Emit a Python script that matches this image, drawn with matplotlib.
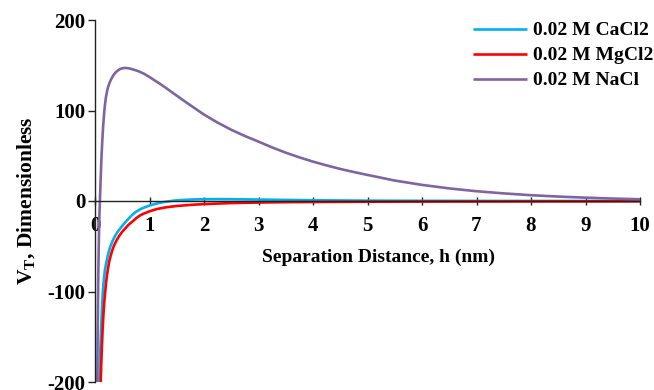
import matplotlib
matplotlib.use("Agg")
import matplotlib.pyplot as plt

plt.rcParams['font.family'] = ['Liberation Serif', 'DejaVu Serif']
plt.rcParams['font.weight'] = 'bold'
plt.rcParams['mathtext.fontset'] = 'custom'
plt.rcParams['mathtext.bf'] = 'Liberation Serif:bold'
plt.rcParams['mathtext.rm'] = 'Liberation Serif:bold'
plt.rcParams['axes.unicode_minus'] = False

# Data
h_nacl = [0.036, 0.042, 0.05, 0.06, 0.07, 0.08, 0.09, 0.10, 0.11, 0.12, 0.135, 0.15, 0.165, 0.18,
          0.20, 0.22, 0.24, 0.27, 0.30, 0.33, 0.36, 0.40, 0.45, 0.50, 0.54, 0.60, 0.65, 0.70,
          0.79, 0.90, 1.0, 1.1, 1.2, 1.3, 1.4, 1.5, 1.6, 1.75, 1.9, 2.0, 2.25, 2.5, 2.75,
          3.0, 3.25, 3.5, 3.75, 4.0, 4.25, 4.5, 4.75, 5.0, 5.5, 6.0, 6.5, 7.0, 7.5, 8.0, 8.5,
          9.0, 9.5, 10.0]
v_nacl = [-250, -200, -140, -85, -45, -18, 0, 18, 34, 50, 68, 83, 95, 105,
          114.5, 121, 126, 131, 135, 138.2, 140.8, 143.3, 145.5, 146.7, 147, 146.8, 146.2, 145.3,
          143.6, 140.6, 137, 133, 129.2, 125, 120.7, 116.4, 112.1, 105.8, 99.6, 95.5, 86.6, 78.7,
          71.8, 65.6, 59.2, 53.4, 48.2, 43.5, 39.3, 35.4, 32, 28.8, 22.6, 17.8, 13.9, 10.8, 8.4,
          6.4, 4.9, 3.7, 2.7, 1.9]

h_cacl2 = [0.072, 0.08, 0.09, 0.10, 0.11, 0.12, 0.13, 0.14, 0.153, 0.165, 0.18, 0.20, 0.215, 0.24,
           0.27, 0.29, 0.32, 0.36, 0.41, 0.46, 0.52, 0.60, 0.675, 0.75, 0.85, 1.0, 1.15, 1.3,
           1.45, 1.6, 1.8, 2.0, 2.25, 2.5, 3.0, 3.5, 4.0, 4.5, 5.0, 6.0, 7.0, 8.0, 9.0, 10.0]
v_cacl2 = [-220, -200, -178, -160, -144, -130, -116, -104, -92.5, -85, -77, -70, -66, -59,
           -52.5, -49, -44.5, -39.5, -34.5, -30.6, -26, -20.5, -15.8, -12, -8.5, -5, -2.5, -0.8,
           0.4, 1.1, 1.7, 2.0, 2.1, 2.0, 1.6, 1.2, 0.85, 0.6, 0.4, 0.2, 0.1, 0.05, 0.02, 0.0]

h_mgcl2 = [0.097, 0.105, 0.115, 0.125, 0.14, 0.155, 0.17, 0.184, 0.20, 0.22, 0.24, 0.26, 0.29,
           0.32, 0.35, 0.40, 0.45, 0.50, 0.55, 0.62, 0.70, 0.76, 0.83, 0.90, 1.0, 1.14, 1.3,
           1.5, 1.75, 2.0, 2.5, 3.0, 3.5, 4.0, 5.0, 6.0, 7.0, 8.0, 9.0, 10.0]
v_mgcl2 = [-215, -200, -180, -163, -142, -125, -112, -103, -92, -82, -74, -67, -60,
           -54, -49, -43, -38, -34, -30.6, -26, -22, -18.8, -15.8, -13.8, -11.4, -8.8, -7,
           -5.5, -4.3, -3.4, -2.3, -1.7, -1.3, -1.1, -0.8, -0.6, -0.5, -0.4, -0.35, -0.3]

labels = ['0.02 M CaCl2', '0.02 M MgCl2', '0.02 M NaCl']
colors = ['#00B0F0', '#FF0000', '#8064A2']

x_ticks = list(range(0, 11))
y_ticks = [-200, -100, 0, 100, 200]

fig = plt.figure(figsize=(6.54, 3.90), dpi=100)
ax = fig.add_axes([95/654, 1-382/390, (640-95)/654, (382-20)/390])

for hx, vy, lab, c in zip([h_cacl2, h_mgcl2, h_nacl], [v_cacl2, v_mgcl2, v_nacl], labels, colors):
    ax.plot(hx, vy, color=c, lw=1.9, label=lab, solid_capstyle='butt')

ax.set_xlim(0, 10)
ax.set_ylim(-200, 200)
ax.set_xticks(x_ticks)
ax.set_yticks(y_ticks)

ax.spines['top'].set_visible(False)
ax.spines['right'].set_visible(False)
ax.spines['bottom'].set_position(('data', 0))
for s in ['left', 'bottom']:
    ax.spines[s].set_color('#222222')
    ax.spines[s].set_linewidth(1.0)

ax.tick_params(axis='y', direction='out', length=5, width=1, color='#222222', labelsize=15, pad=2)
ax.tick_params(axis='x', direction='inout', length=6, width=1, color='#222222', labelsize=15, pad=8)
for t in ax.get_xticklabels() + ax.get_yticklabels():
    t.set_fontweight('bold')

ax.set_xlabel('Separation Distance, h (nm)', fontsize=14, fontweight='bold')
ax.xaxis.set_label_coords((378-95)/545, 1 - (249-20)/362)
ax.set_ylabel(r'$\mathbf{V}_\mathbf{T}$, Dimensionless', fontsize=15.5, fontweight='bold')
ax.yaxis.set_label_coords((38-95)/545, 0.5)

fs_leg = 14
leg = fig.legend(loc='upper left', bbox_to_anchor=(465/654, 1 - 14/390),
                 frameon=False, fontsize=fs_leg, handlelength=2.8, handletextpad=0.3,
                 labelspacing=0.38, borderaxespad=0.0, borderpad=0.4)
for t in leg.get_texts():
    t.set_fontweight('bold')

fig.savefig('out.png', dpi=100)
